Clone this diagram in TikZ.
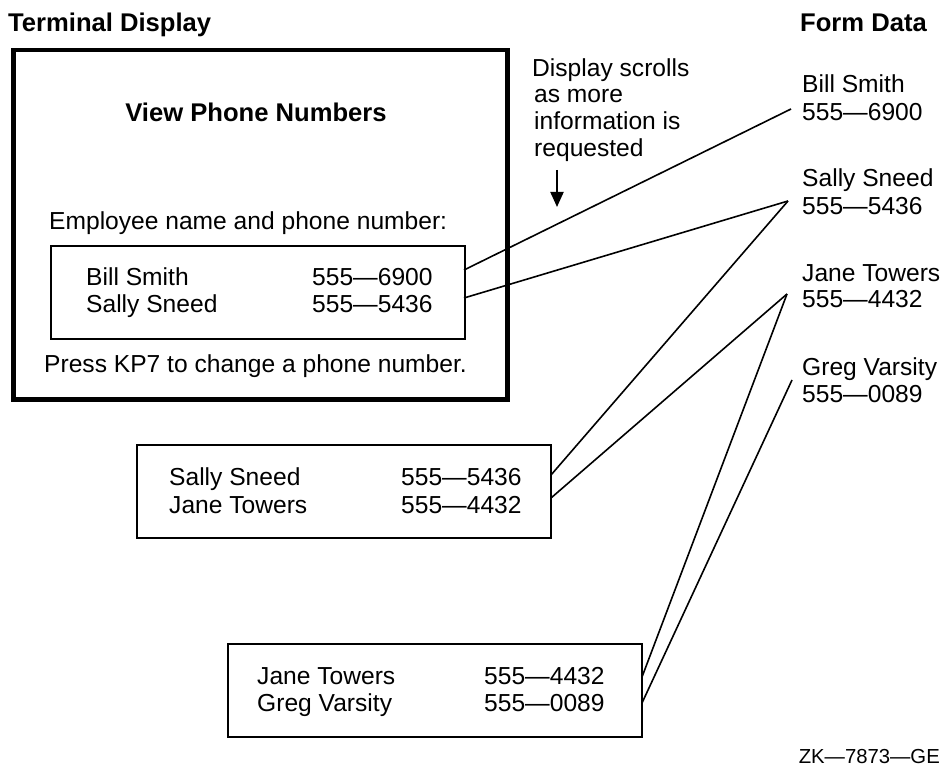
\documentclass[tikz,border=0pt]{standalone}
\usepackage{fontspec}
\setmainfont{Liberation Sans}
\usetikzlibrary{arrows.meta}
\tikzset{
  txt/.style={anchor=base west,inner sep=0pt,font=\fontsize{24.6}{28}\selectfont},
  head/.style={txt,font=\fontsize{25.6}{30}\selectfont\bfseries},
  listbox/.style={draw,line width=2pt,inner sep=0pt,anchor=north west,
    minimum width=414pt,minimum height=93pt},
  link/.style={line width=1.6pt}
}
\begin{document}
\begin{tikzpicture}[x=1pt,y=-1pt]
  \useasboundingbox (0,0) rectangle (946,770);
  \node[head] (tdisp) at (8,32) {Terminal Display};
  \node[head] (fdata) at (800,32) {Form Data};
  % terminal screen
  \node[draw,line width=4.5pt,inner sep=0pt,anchor=north west,
    minimum width=494pt,minimum height=349pt] (screen) at (11,48) {};
  \node[head,anchor=base] (vtitle) at (256,122) {View Phone Numbers};
  \node[txt] (prompt) at (49,230) {Employee name and phone number:};
  \node[listbox] (list1) at (50,245) {};
  \node[txt] (l1n1) at (86,286) {Bill Smith};
  \node[txt] (l1p1) at (312,286) {555—6900};
  \node[txt] (l1n2) at (86,313) {Sally Sneed};
  \node[txt] (l1p2) at (312,313) {555—5436};
  \node[txt] (help) at (44,372) {Press KP7 to change a phone number.};
  % scrolled screens
  \node[listbox] (list2) at (136,444) {};
  \node[txt] (l2n1) at (169,485) {Sally Sneed};
  \node[txt] (l2p1) at (401,485) {555—5436};
  \node[txt] (l2n2) at (169,513) {Jane Towers};
  \node[txt] (l2p2) at (401,513) {555—4432};
  \node[listbox] (list3) at (227,643) {};
  \node[txt] (l3n1) at (257,684) {Jane Towers};
  \node[txt] (l3p1) at (484,684) {555—4432};
  \node[txt] (l3n2) at (257,711) {Greg Varsity};
  \node[txt] (l3p2) at (484,711) {555—0089};
  % note
  \node[txt] (note1) at (532,77) {Display scrolls};
  \node[txt] (note2) at (534,103) {as more};
  \node[txt] (note3) at (534,130) {information is};
  \node[txt] (note4) at (534,157) {requested};
  \coordinate (arrtop) at (557,170);
  \coordinate (arrtip) at (557,207);
  \draw[line width=2pt,-{Triangle[length=15pt,width=13pt]}] (arrtop) -- (arrtip);
  % form data
  \node[txt] (fd1a) at (802,93) {Bill Smith};
  \node[txt] (fd1b) at (802,121) {555—6900};
  \node[txt] (fd2a) at (802,187) {Sally Sneed};
  \node[txt] (fd2b) at (802,215) {555—5436};
  \node[txt] (fd3a) at (802,282) {Jane Towers};
  \node[txt] (fd3b) at (802,308) {555—4432};
  \node[txt] (fd4a) at (802,375) {Greg Varsity};
  \node[txt] (fd4b) at (802,402) {555—0089};
  \node[txt,anchor=base east,font=\fontsize{20.3}{24}\selectfont] (zk) at (940,763) {ZK—7873—GE};
  % connector ends
  \coordinate (l1top) at (464,270);
  \coordinate (l1bot) at (464,298);
  \coordinate (l2top) at (551,475);
  \coordinate (l2bot) at (551,498);
  \coordinate (l3top) at (642,677);
  \coordinate (l3bot) at (642,703);
  \coordinate (fbill) at (791,109);
  \coordinate (fsally) at (788,201);
  \coordinate (fjane) at (787,294);
  \coordinate (fgreg) at (792,380);
  \begin{scope}[link]
    \draw (l1top) to (fbill);
    \draw (l1bot) to (fsally);
    \draw (l2top) to (fsally);
    \draw (l2bot) to (fjane);
    \draw (l3top) to (fjane);
    \draw (l3bot) to (fgreg);
  \end{scope}
\end{tikzpicture}
\end{document}
